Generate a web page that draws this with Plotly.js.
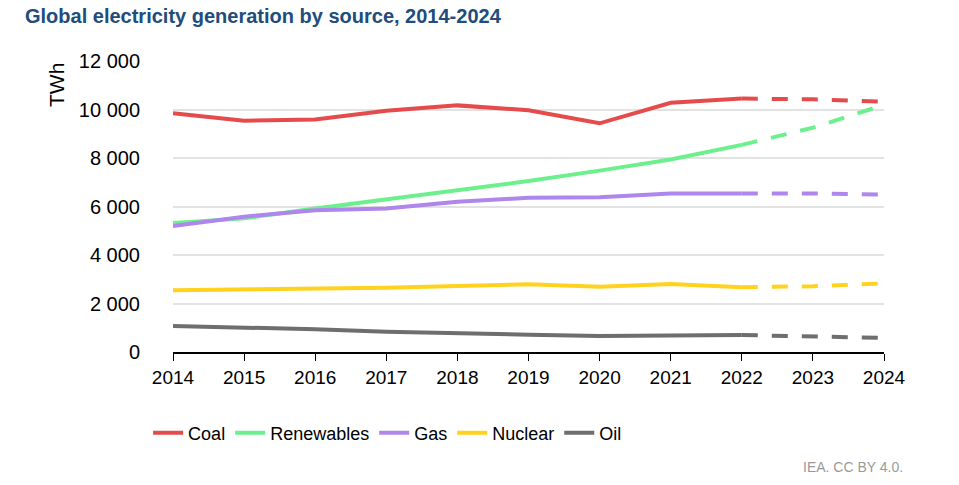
<!DOCTYPE html>
<html>
<head>
<meta charset="utf-8">
<script src="https://cdn.plot.ly/plotly-3.0.1.min.js"></script>
<style>
  body { margin: 0; background: #fff; }
  #chart { width: 959px; height: 485px; }
</style>
</head>
<body>
<div id="chart"></div>
<script>
// values (TWh), 2023-2024 are the dashed part
var years = [2014, 2015, 2016, 2017, 2018, 2019, 2020, 2021, 2022, 2023, 2024];
var coal = [9850, 9540, 9590, 9950, 10170, 9970, 9430, 10280, 10450, 10420, 10320];
var renewables = [5320, 5510, 5920, 6290, 6700, 7050, 7480, 7940, 8540, 9250, 10190];
var gas = [5190, 5580, 5850, 5920, 6200, 6360, 6380, 6540, 6540, 6540, 6490];
var nuclear = [2550, 2580, 2620, 2650, 2720, 2790, 2690, 2800, 2670, 2710, 2830];
var oil = [1070, 1020, 940, 840, 760, 710, 660, 670, 700, 630, 580];

var names = ['Coal', 'Renewables', 'Gas', 'Nuclear', 'Oil'];
var series = [coal, renewables, gas, nuclear, oil];
var colors = ['#e54b4b', '#6cf08e', '#ae86ec', '#ffd21e', '#6e6e6e'];

var split = years.indexOf(2022);
var data = [];

// solid history
for (var i = 0; i < series.length; i++) {
    data.push({
        x: years.slice(0, split + 1),
        y: series[i].slice(0, split + 1),
        type: 'scatter',
        mode: 'lines',
        name: names[i],
        line: { color: colors[i], width: 4 },
        legendgroup: names[i]
    });
}
// dashed forecast
for (var i = 0; i < series.length; i++) {
    data.push({
        x: years.slice(split),
        y: series[i].slice(split),
        type: 'scatter',
        mode: 'lines',
        name: names[i],
        showlegend: false,
        line: { color: colors[i], width: 4, dash: '16px,14px' },
        legendgroup: names[i]
    });
}

var layout = {
    width: 959,
    height: 485,
    paper_bgcolor: '#fff',
    plot_bgcolor: '#fff',
    font: { family: 'Liberation Sans, Arial, sans-serif', color: '#000' },
    margin: { l: 173, r: 75, t: 61, b: 133 },
    showlegend: true,
    title: {
        text: '<b>Global electricity generation by source, 2014-2024</b>',
        font: { size: 20, color: '#214c7c' },
        x: 25 / 959, xanchor: 'left',
        y: 1 - 16 / 485, yanchor: 'middle'
    },
    xaxis: {
        range: [2014, 2024],
        tickvals: years,
        ticktext: years.map(String),
        ticks: 'outside',
        ticklen: 7,
        tickcolor: '#000',
        showline: true,
        linecolor: '#000',
        linewidth: 1.5,
        showgrid: false,
        zeroline: false,
        tickfont: { size: 19 }
    },
    yaxis: {
        range: [0, 12000],
        tickvals: [0, 2000, 4000, 6000, 8000, 10000, 12000],
        ticktext: ['0', '2 000', '4 000', '6 000', '8 000', '10 000', '12 000'],
        showgrid: true,
        gridcolor: '#e2e2e2',
        gridwidth: 1.5,
        zeroline: false,
        showline: false,
        ticks: '',
        ticklabelstandoff: 32,
        tickfont: { size: 20 }
    },
    legend: {
        orientation: 'h',
        x: -0.035, xanchor: 'left',
        y: -0.215, yanchor: 'top',
        font: { size: 18 },
        itemwidth: 30,
        tracegroupgap: 0
    },
    annotations: [
        {
            text: 'TWh',
            showarrow: false,
            textangle: -90,
            xref: 'paper', yref: 'paper',
            x: (56 - 173) / 711, xanchor: 'center',
            y: (352 - 85) / 291, yanchor: 'middle',
            font: { size: 21 }
        },
        {
            text: 'IEA. CC BY 4.0.',
            showarrow: false,
            xref: 'paper', yref: 'paper',
            x: (905 - 173) / 711, xanchor: 'right',
            y: (352 - 467) / 291, yanchor: 'middle',
            font: { size: 14, color: '#9a9a9a' }
        }
    ]
};

Plotly.newPlot('chart', data, layout, { displayModeBar: false });
</script>
</body>
</html>
